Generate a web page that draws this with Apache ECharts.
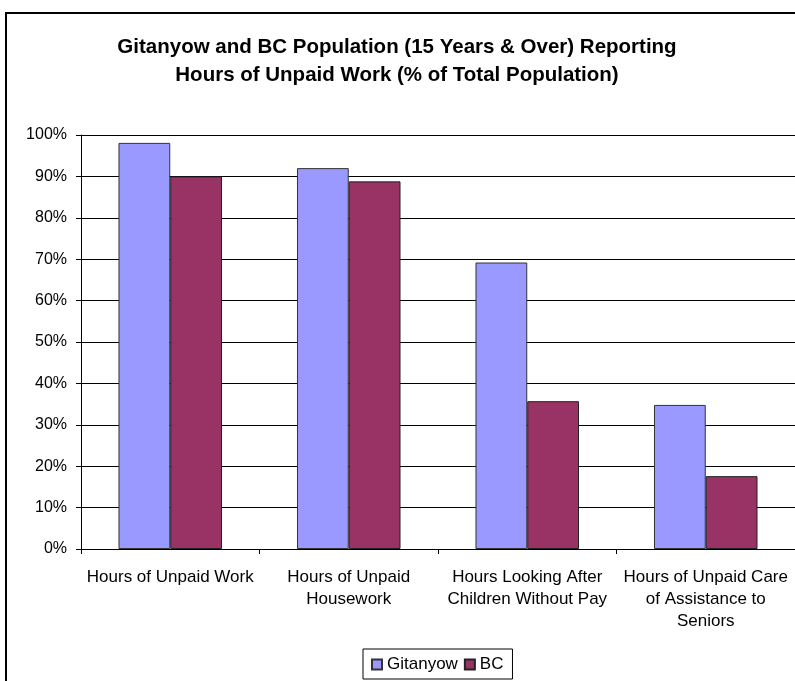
<!DOCTYPE html>
<html>
<head>
<meta charset="utf-8">
<script src="https://cdn.jsdelivr.net/npm/echarts@6/dist/echarts.min.js"></script>
<style>html,body{margin:0;padding:0;background:#fff}#c{width:795px;height:681px}</style>
</head>
<body>
<div id="c"></div>
<script>
const categories = ["Hours of Unpaid Work", "Hours of Unpaid\nHousework", "Hours Looking After\nChildren Without Pay", "Hours of Unpaid Care\nof Assistance to\nSeniors"];
const seriesNames = ["Gitanyow", "BC"];
const gitanyow = [98.1, 92.0, 69.2, 34.8];
const bc = [90.0, 88.8, 35.7, 17.6];
const yTicks = [0, 10, 20, 30, 40, 50, 60, 70, 80, 90, 100];

const chart = echarts.init(document.getElementById('c'), null, {renderer: 'canvas'});
const font = 'Liberation Sans, Arial, sans-serif';
chart.setOption({
  animation: false,
  backgroundColor: '#fff',
  textStyle: {fontFamily: font},
  graphic: [{
    type: 'rect', shape: {x: 6, y: 13, width: 820, height: 700},
    style: {fill: 'none', stroke: '#000', lineWidth: 2}, silent: true, z: 100
  }],
  title: {
    text: 'Gitanyow and BC Population (15 Years & Over) Reporting\nHours of Unpaid Work (% of Total Population)',
    left: 392, top: 28, textAlign: 'center',
    textStyle: {fontFamily: font, fontSize: 20.5, fontWeight: 'bold', color: '#000', lineHeight: 28}
  },
  legend: {
    data: seriesNames,
    left: 363, top: 649,
    borderColor: '#000', borderWidth: 1,
    padding: [7, 9, 6, 8],
    itemWidth: 10, itemHeight: 10, itemGap: 6,
    icon: 'rect',
    textStyle: {fontFamily: font, fontSize: 17, color: '#000'}
  },
  grid: {left: 81, top: 135, right: -3, bottom: 132, containLabel: false},
  xAxis: {
    type: 'category', data: categories,
    axisLine: {lineStyle: {color: '#000', width: 1}},
    axisTick: {show: true, length: 5, lineStyle: {color: '#000'}, alignWithLabel: false},
    axisLabel: {fontFamily: font, fontSize: 17, color: '#000', lineHeight: 22, margin: 17, interval: 0}
  },
  yAxis: {
    type: 'value', min: 0, max: 100, interval: 10,
    axisLine: {show: true, lineStyle: {color: '#000', width: 1}},
    axisTick: {show: true, length: 5, lineStyle: {color: '#000'}},
    splitLine: {lineStyle: {color: '#000', width: 1}},
    axisLabel: {fontFamily: font, fontSize: 16, color: '#000', margin: 14,
      formatter: v => yTicks.indexOf(v) >= 0 ? v + '%' : ''}
  },
  series: [
    {name: seriesNames[0], type: 'bar', data: gitanyow, barGap: '0%', barCategoryGap: '42%',
     itemStyle: {color: '#9999FF', borderColor: '#333', borderWidth: 1}},
    {name: seriesNames[1], type: 'bar', data: bc, barGap: '0%', barCategoryGap: '42%',
     itemStyle: {color: '#993366', borderColor: '#222', borderWidth: 1}}
  ]
});
</script>
</body>
</html>
